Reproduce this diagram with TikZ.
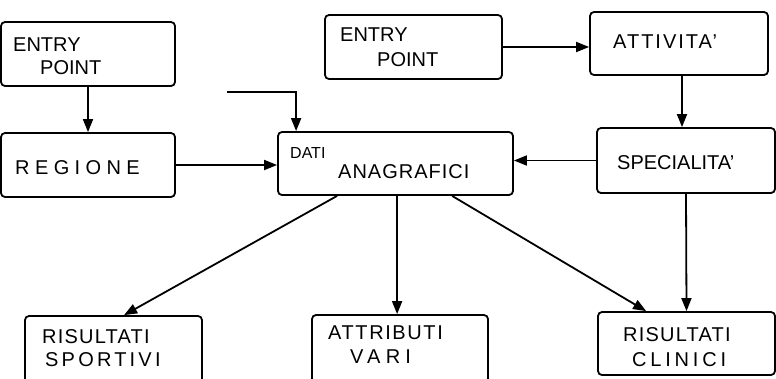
\documentclass[tikz,border=0pt]{standalone}
\usepackage{fontspec}
\setmainfont{Liberation Sans}
\usetikzlibrary{arrows.meta}
\newcommand{\lsp}[2]{{\addfontfeature{LetterSpace=#1}#2}}
\tikzset{
  box/.style={draw, line width=1.8pt, rounded corners=4pt, minimum width=#1, inner sep=0pt},
  lbl/.style={anchor=west, inner sep=0pt, font=\fontsize{20}{20}\selectfont},
  arr/.style={line width=1.8pt, -{Triangle[length=13pt,width=10pt]}},
  ln/.style={line width=1.8pt}
}
\begin{document}
\begin{tikzpicture}[x=1pt,y=-1pt]
\clip (0,0) rectangle (776,378);
\useasboundingbox (0,0) rectangle (776,378);
% boxes
\node[box=174pt, minimum height=64pt] (ep1) at (88,54) {};
\node[box=174pt, minimum height=64pt] (reg) at (88,165) {};
\node[box=235pt, minimum height=63pt] (dati) at (395.5,163.5) {};
\node[box=177pt, minimum height=64pt] (ep2) at (413.5,47) {};
\node[box=178pt, minimum height=63pt] (att) at (679,43.5) {};
\node[box=178pt, minimum height=65pt] (spec) at (686,160.5) {};
\node[box=177pt, minimum height=72pt] (rs) at (113.5,352) {};
\node[box=176pt, minimum height=72pt] (av) at (400,351) {};
\node[box=177pt, minimum height=63pt] (rc) at (686.5,343.5) {};
% labels
\node[lbl] (t1) at (13,45) {ENTRY};
\node[lbl] (t2) at (40,68) {POINT};
\node[lbl] (t3) at (15,168) {\lsp{27}{REGIONE}};
\node[lbl, font=\fontsize{16}{16}\selectfont] (t4) at (290,153) {DATI};
\node[lbl] (t5) at (338,172) {\lsp{5}{ANAGRAFICI}};
\node[lbl] (t6) at (340,35) {ENTRY};
\node[lbl] (t7) at (377,60) {POINT};
\node[lbl] (t8) at (613,42) {\lsp{10}{ATTIVITA'}};
\node[lbl] (t9) at (617,163) {SPECIALITA'};
\node[lbl] (t10) at (42,337) {\lsp{6}{RISULTATI}};
\node[lbl] (t11) at (45,360) {\lsp{16}{SPORTIVI}};
\node[lbl] (t12) at (328,333) {\lsp{8}{ATTRIBUTI}};
\node[lbl] (t13) at (350,357) {\lsp{26}{VARI}};
\node[lbl] (t14) at (623,335) {\lsp{6}{RISULTATI}};
\node[lbl] (t15) at (632,360) {\lsp{19}{CLINICI}};
% connectors
\coordinate (c1) at (227,92);
\draw[arr] (ep1.south) -- (reg.north);
\draw[arr] (reg.east) -- (reg.east -| dati.west);
\draw[arr] (c1) -| ([xshift=19pt]dati.north west);
\draw[arr] (ep2.east) -- (ep2.east -| att.west);
\draw[arr] ([xshift=3pt]att.south) -- ([xshift=3pt]att.south |- spec.north);
\draw[arr] (spec.west) -- (spec.west -| dati.east);
\draw[arr] ([xshift=60pt]dati.south west) -- ([xshift=100pt]rs.north west);
\draw[arr] ([xshift=120pt]dati.south west) -- ([xshift=120pt]dati.south west |- av.north);
\draw[arr] ([xshift=175pt]dati.south west) -- ([xshift=49pt]rc.north west);
\draw[arr] (spec.south) -- (rc.north);
\end{tikzpicture}
\end{document}
